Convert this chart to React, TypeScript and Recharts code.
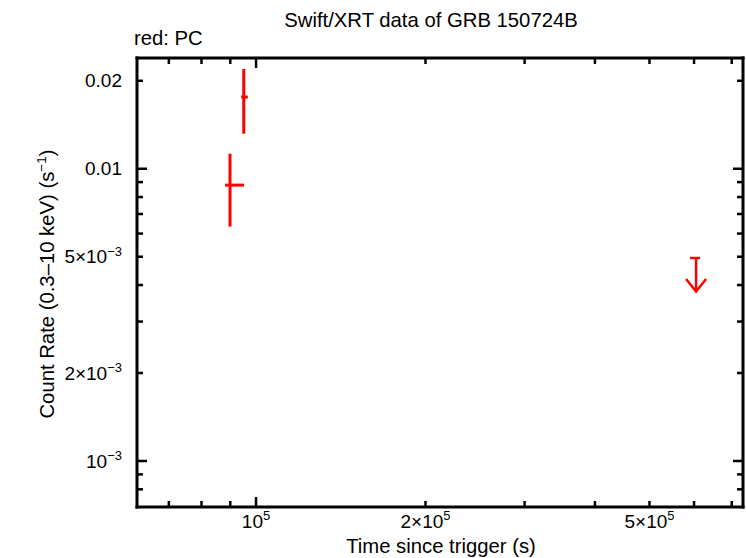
import React from 'react';
import { ScatterChart, Scatter, XAxis, YAxis, ErrorBar, Customized } from 'recharts';

// ---- data ----
const PC_TIME = [8.99e4, 9.51e4];
const PC_TIME_LO = [8.81e4, 9.41e4];
const PC_TIME_HI = [9.52e4, 9.67e4];
const PC_RATE = [8.79e-3, 1.76e-2];
const PC_RATE_LO = [6.34e-3, 1.318e-2];
const PC_RATE_HI = [1.126e-2, 2.194e-2];

const UL_TIME = [6.05e5];
const UL_TIME_LO = [5.9e5];
const UL_TIME_HI = [6.15e5];
const UL_RATE = [4.95e-3];
const UL_TIP = [3.8e-3];

// ---- axes ----
const X_DOMAIN = [6.145e4, 7.33e5];
const Y_DOMAIN = [6.96e-4, 2.393e-2];
const X_TICKS = [7e4, 8e4, 9e4, 1e5, 2e5, 3e5, 4e5, 5e5, 6e5, 7e5];
const X_MAJOR = [1e5];
const X_LABEL_VALUES = [1e5, 2e5, 5e5];
const X_LABEL_BASE = ['10', '2×10', '5×10'];
const X_LABEL_EXP = ['5', '5', '5'];
const Y_TICKS = [8e-4, 9e-4, 1e-3, 2e-3, 3e-3, 4e-3, 5e-3, 6e-3, 7e-3, 8e-3, 9e-3, 1e-2, 2e-2];
const Y_MAJOR = [1e-3, 1e-2];
const Y_LABEL_VALUES = [2e-2, 1e-2, 5e-3, 2e-3, 1e-3];
const Y_LABEL_BASE = ['0.02', '0.01', '5×10', '2×10', '10'];
const Y_LABEL_EXP = ['', '', '−3', '−3', '−3'];

const TITLE = 'Swift/XRT data of GRB 150724B';
const SUBTITLE = 'red: PC';
const X_TITLE = 'Time since trigger (s)';

const FONT = '"Liberation Sans", Arial, Helvetica, sans-serif';
const RED = '#ff0000';

const pcData = PC_TIME.map((t, i) => ({
  x: t,
  y: PC_RATE[i],
  ex: [t - PC_TIME_LO[i], PC_TIME_HI[i] - t],
  ey: [PC_RATE[i] - PC_RATE_LO[i], PC_RATE_HI[i] - PC_RATE[i]],
}));
const ulData = UL_TIME.map((t, i) => ({
  x: t,
  y: UL_RATE[i],
  ex: [t - UL_TIME_LO[i], UL_TIME_HI[i] - t],
  ey: [UL_RATE[i] - UL_TIP[i], 0],
}));
const ulTipData = UL_TIME.map((t, i) => ({ x: t, y: UL_TIP[i] }));

const near = (a: number, b: number) => Math.abs(a - b) / b < 1e-6;
const MAJ = 10;
const MIN = 6;
const TICK_W = 2.5;

const TickLabel = ({ x, y, base, exp, anchor }: any) => (
  <text x={x} y={y} textAnchor={anchor} fontFamily={FONT} fontSize={19} fill="#000">
    {base}
    {exp ? (
      <tspan dy={-7.5} fontSize={13}>
        {exp}
      </tspan>
    ) : null}
  </text>
);

const BottomTick = (props: any) => {
  const { x, y, payload } = props;
  const v = payload.value;
  const major = X_MAJOR.some((m) => near(v, m));
  const li = X_LABEL_VALUES.findIndex((m) => near(v, m));
  return (
    <g>
      <line x1={x} x2={x} y1={y} y2={y - (major ? MAJ : MIN)} stroke="#000" strokeWidth={TICK_W} />
      {li >= 0 ? <TickLabel x={x} y={y + 20.5} base={X_LABEL_BASE[li]} exp={X_LABEL_EXP[li]} anchor="middle" /> : null}
    </g>
  );
};

const TopTick = (props: any) => {
  const { x, y, payload } = props;
  const major = X_MAJOR.some((m) => near(payload.value, m));
  return <line x1={x} x2={x} y1={y} y2={y + (major ? MAJ : MIN)} stroke="#000" strokeWidth={TICK_W} />;
};

const LeftTick = (props: any) => {
  const { x, y, payload } = props;
  const v = payload.value;
  const major = Y_MAJOR.some((m) => near(v, m));
  const li = Y_LABEL_VALUES.findIndex((m) => near(v, m));
  return (
    <g>
      <line x1={x} x2={x + (major ? MAJ : MIN)} y1={y} y2={y} stroke="#000" strokeWidth={TICK_W} />
      {li >= 0 ? <TickLabel x={x - 15} y={y + 6.5} base={Y_LABEL_BASE[li]} exp={Y_LABEL_EXP[li]} anchor="end" /> : null}
    </g>
  );
};

const RightTick = (props: any) => {
  const { x, y, payload } = props;
  const major = Y_MAJOR.some((m) => near(payload.value, m));
  return <line x1={x} x2={x - (major ? MAJ : MIN)} y1={y} y2={y} stroke="#000" strokeWidth={TICK_W} />;
};

const NoDot = () => <g />;

const ArrowHead = (p: any) => (
  <path
    d={`M${p.cx - 10},${p.cy - 12.5} L${p.cx},${p.cy} L${p.cx + 10},${p.cy - 12.5}`}
    fill="none"
    stroke={RED}
    strokeWidth={2.5}
  />
);

const Texts = () => (
  <g fontFamily={FONT} fill="#000">
    <text x={431} y={27} textAnchor="middle" fontSize={20.3}>
      {TITLE}
    </text>
    <text x={134} y={45} textAnchor="start" fontSize={20.3}>
      {SUBTITLE}
    </text>
    <text x={441} y={553} textAnchor="middle" fontSize={20.3}>
      {X_TITLE}
    </text>
    <text x={54} y={284} textAnchor="middle" fontSize={20.3} transform="rotate(-90 54 284)">
      Count Rate (0.3–10 keV) (s
      <tspan dy={-8} fontSize={13.5}>
        −1
      </tspan>
      <tspan dy={8}>)</tspan>
    </text>
  </g>
);

const axisLine = { stroke: '#000', strokeWidth: 3, strokeLinecap: 'square' as const };

export default function App() {
  return (
    <div style={{ position: 'absolute', left: 0, top: 0, width: 746, height: 558, background: '#fff' }}>
      <ScatterChart width={746} height={558} margin={{ top: 48, right: 0, bottom: 21, left: 77 }}>
        <XAxis
          xAxisId="b"
          dataKey="x"
          type="number"
          scale="log"
          domain={X_DOMAIN}
          allowDataOverflow
          ticks={X_TICKS}
          interval={0}
          tickSize={0}
          tickMargin={0}
          tickLine={false}
          tick={<BottomTick />}
          axisLine={axisLine}
          orientation="bottom"
          height={30}
        />
        <XAxis
          xAxisId="t"
          dataKey="x"
          type="number"
          scale="log"
          domain={X_DOMAIN}
          allowDataOverflow
          ticks={X_TICKS}
          interval={0}
          tickSize={0}
          tickMargin={0}
          tickLine={false}
          tick={<TopTick />}
          axisLine={axisLine}
          orientation="top"
          height={10}
        />
        <YAxis
          yAxisId="l"
          dataKey="y"
          type="number"
          scale="log"
          domain={Y_DOMAIN}
          allowDataOverflow
          ticks={Y_TICKS}
          interval={0}
          tickSize={0}
          tickMargin={0}
          tickLine={false}
          tick={<LeftTick />}
          axisLine={axisLine}
          orientation="left"
          width={60}
        />
        <YAxis
          yAxisId="r"
          dataKey="y"
          type="number"
          scale="log"
          domain={Y_DOMAIN}
          allowDataOverflow
          ticks={Y_TICKS}
          interval={0}
          tickSize={0}
          tickMargin={0}
          tickLine={false}
          tick={<RightTick />}
          axisLine={axisLine}
          orientation="right"
          width={3}
        />
        <Scatter xAxisId="b" yAxisId="l" data={pcData} shape={NoDot} isAnimationActive={false}>
          <ErrorBar dataKey="ey" direction="y" width={0} stroke={RED} strokeWidth={3} isAnimationActive={false} />
          <ErrorBar dataKey="ex" direction="x" width={0} stroke={RED} strokeWidth={3} isAnimationActive={false} />
        </Scatter>
        <Scatter xAxisId="b" yAxisId="l" data={ulData} shape={NoDot} isAnimationActive={false}>
          <ErrorBar dataKey="ey" direction="y" width={0} stroke={RED} strokeWidth={2.5} isAnimationActive={false} />
          <ErrorBar dataKey="ex" direction="x" width={0} stroke={RED} strokeWidth={2.5} isAnimationActive={false} />
        </Scatter>
        <Scatter xAxisId="b" yAxisId="l" data={ulTipData} shape={ArrowHead} isAnimationActive={false} />
        <Customized component={Texts} />
      </ScatterChart>
    </div>
  );
}
